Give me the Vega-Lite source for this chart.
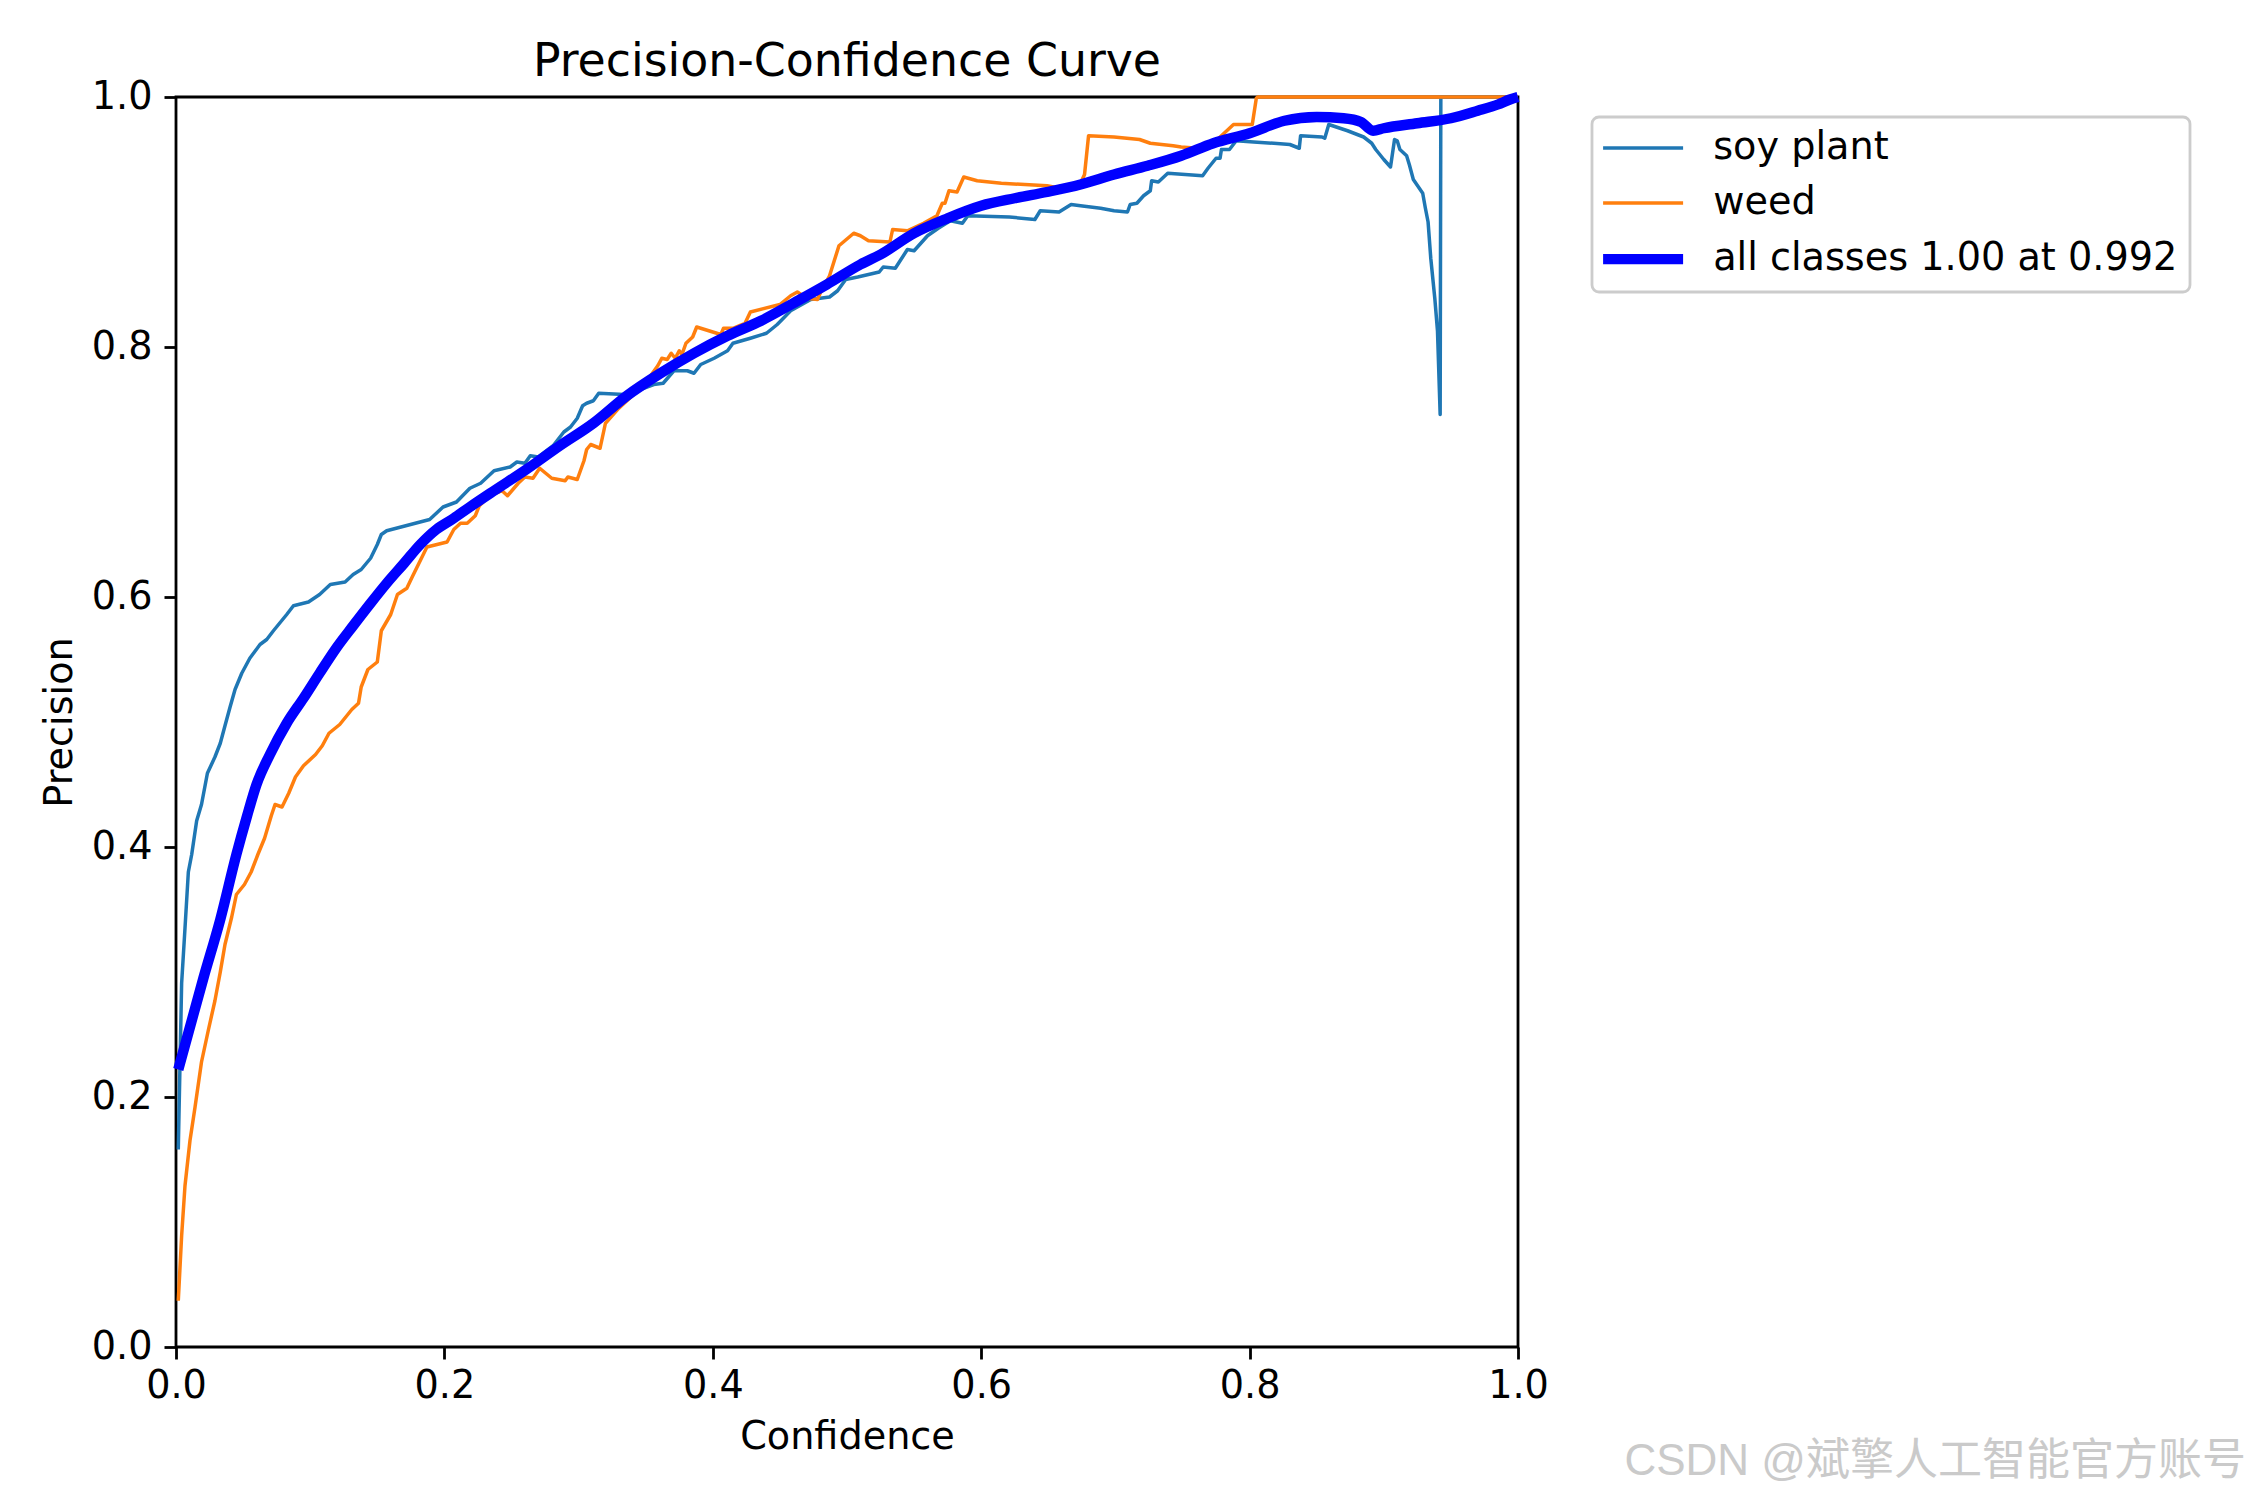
{
  "$schema": "https://vega.github.io/schema/vega-lite/v6.json",
  "width": 1342,
  "height": 1250,
  "autosize": {"type": "none"},
  "padding": {"left": 176, "top": 97, "right": 732, "bottom": 153},
  "background": "white",
  "title": {
    "text": "Precision-Confidence Curve",
    "font": "DejaVu Sans",
    "fontSize": 45.8,
    "fontWeight": "normal",
    "color": "black",
    "anchor": "middle",
    "offset": -9
  },
  "config": {
    "view": {"stroke": "black", "strokeWidth": 2.8},
    "axis": {
      "grid": false,
      "domain": false,
      "tickColor": "black",
      "tickWidth": 2.8,
      "tickSize": 12,
      "labelFont": "DejaVu Sans",
      "labelFontSize": 38.2,
      "labelColor": "black",
      "labelFlush": false,
      "labelOverlap": false,
      "titleFont": "DejaVu Sans",
      "titleFontSize": 38.2,
      "titleFontWeight": "normal",
      "titleColor": "black"
    },
    "legend": {
      "orient": "none",
      "legendX": 1416,
      "legendY": 20,
      "symbolType": "M-2,0H2",
      "symbolSize": 1600,
      "symbolOffset": 20,
      "symbolOpacity": 1,
      "labelFont": "DejaVu Sans",
      "labelFontSize": 38.2,
      "labelColor": "black",
      "labelLimit": 0,
      "labelOffset": 51,
      "rowPadding": 16,
      "padding": 12,
      "fillColor": "rgba(255,255,255,0.8)",
      "strokeColor": "#cccccc",
      "strokeWidth": 2.8,
      "cornerRadius": 7
    }
  },
  "data": {
    "values": [
      {"class": "soy plant", "conf": 0.0017, "prec": 0.158},
      {"class": "soy plant", "conf": 0.0042, "prec": 0.291},
      {"class": "soy plant", "conf": 0.0067, "prec": 0.335},
      {"class": "soy plant", "conf": 0.0092, "prec": 0.38},
      {"class": "soy plant", "conf": 0.0117, "prec": 0.394},
      {"class": "soy plant", "conf": 0.0154, "prec": 0.421},
      {"class": "soy plant", "conf": 0.019, "prec": 0.434},
      {"class": "soy plant", "conf": 0.0234, "prec": 0.459},
      {"class": "soy plant", "conf": 0.029, "prec": 0.472},
      {"class": "soy plant", "conf": 0.033, "prec": 0.483},
      {"class": "soy plant", "conf": 0.0365, "prec": 0.497},
      {"class": "soy plant", "conf": 0.0403, "prec": 0.512},
      {"class": "soy plant", "conf": 0.044, "prec": 0.526},
      {"class": "soy plant", "conf": 0.049, "prec": 0.539},
      {"class": "soy plant", "conf": 0.055, "prec": 0.551},
      {"class": "soy plant", "conf": 0.0626, "prec": 0.562},
      {"class": "soy plant", "conf": 0.0676, "prec": 0.566},
      {"class": "soy plant", "conf": 0.0726, "prec": 0.573},
      {"class": "soy plant", "conf": 0.0825, "prec": 0.586},
      {"class": "soy plant", "conf": 0.0875, "prec": 0.593},
      {"class": "soy plant", "conf": 0.0987, "prec": 0.596},
      {"class": "soy plant", "conf": 0.107, "prec": 0.602},
      {"class": "soy plant", "conf": 0.115, "prec": 0.61},
      {"class": "soy plant", "conf": 0.126, "prec": 0.612},
      {"class": "soy plant", "conf": 0.132, "prec": 0.618},
      {"class": "soy plant", "conf": 0.138, "prec": 0.622},
      {"class": "soy plant", "conf": 0.145, "prec": 0.631},
      {"class": "soy plant", "conf": 0.15, "prec": 0.642},
      {"class": "soy plant", "conf": 0.153, "prec": 0.65},
      {"class": "soy plant", "conf": 0.157, "prec": 0.653},
      {"class": "soy plant", "conf": 0.189, "prec": 0.662},
      {"class": "soy plant", "conf": 0.199, "prec": 0.672},
      {"class": "soy plant", "conf": 0.209, "prec": 0.676},
      {"class": "soy plant", "conf": 0.219, "prec": 0.687},
      {"class": "soy plant", "conf": 0.227, "prec": 0.691},
      {"class": "soy plant", "conf": 0.237, "prec": 0.701},
      {"class": "soy plant", "conf": 0.249, "prec": 0.704},
      {"class": "soy plant", "conf": 0.254, "prec": 0.708},
      {"class": "soy plant", "conf": 0.26, "prec": 0.707},
      {"class": "soy plant", "conf": 0.264, "prec": 0.713},
      {"class": "soy plant", "conf": 0.27, "prec": 0.712},
      {"class": "soy plant", "conf": 0.281, "prec": 0.721},
      {"class": "soy plant", "conf": 0.289, "prec": 0.732},
      {"class": "soy plant", "conf": 0.294, "prec": 0.736},
      {"class": "soy plant", "conf": 0.299, "prec": 0.743},
      {"class": "soy plant", "conf": 0.303, "prec": 0.753},
      {"class": "soy plant", "conf": 0.306, "prec": 0.755},
      {"class": "soy plant", "conf": 0.311, "prec": 0.757},
      {"class": "soy plant", "conf": 0.315, "prec": 0.763},
      {"class": "soy plant", "conf": 0.334, "prec": 0.762},
      {"class": "soy plant", "conf": 0.346, "prec": 0.766},
      {"class": "soy plant", "conf": 0.356, "prec": 0.77},
      {"class": "soy plant", "conf": 0.363, "prec": 0.771},
      {"class": "soy plant", "conf": 0.371, "prec": 0.781},
      {"class": "soy plant", "conf": 0.381, "prec": 0.781},
      {"class": "soy plant", "conf": 0.386, "prec": 0.779},
      {"class": "soy plant", "conf": 0.391, "prec": 0.786},
      {"class": "soy plant", "conf": 0.401, "prec": 0.791},
      {"class": "soy plant", "conf": 0.411, "prec": 0.797},
      {"class": "soy plant", "conf": 0.415, "prec": 0.803},
      {"class": "soy plant", "conf": 0.428, "prec": 0.807},
      {"class": "soy plant", "conf": 0.44, "prec": 0.811},
      {"class": "soy plant", "conf": 0.448, "prec": 0.818},
      {"class": "soy plant", "conf": 0.458, "prec": 0.829},
      {"class": "soy plant", "conf": 0.473, "prec": 0.838},
      {"class": "soy plant", "conf": 0.487, "prec": 0.84},
      {"class": "soy plant", "conf": 0.493, "prec": 0.845},
      {"class": "soy plant", "conf": 0.499, "prec": 0.854},
      {"class": "soy plant", "conf": 0.508, "prec": 0.856},
      {"class": "soy plant", "conf": 0.524, "prec": 0.86},
      {"class": "soy plant", "conf": 0.527, "prec": 0.864},
      {"class": "soy plant", "conf": 0.536, "prec": 0.863},
      {"class": "soy plant", "conf": 0.545, "prec": 0.878},
      {"class": "soy plant", "conf": 0.55, "prec": 0.877},
      {"class": "soy plant", "conf": 0.56, "prec": 0.889},
      {"class": "soy plant", "conf": 0.568, "prec": 0.895},
      {"class": "soy plant", "conf": 0.577, "prec": 0.901},
      {"class": "soy plant", "conf": 0.586, "prec": 0.899},
      {"class": "soy plant", "conf": 0.59, "prec": 0.905},
      {"class": "soy plant", "conf": 0.621, "prec": 0.904},
      {"class": "soy plant", "conf": 0.64, "prec": 0.902},
      {"class": "soy plant", "conf": 0.644, "prec": 0.909},
      {"class": "soy plant", "conf": 0.658, "prec": 0.908},
      {"class": "soy plant", "conf": 0.667, "prec": 0.914},
      {"class": "soy plant", "conf": 0.674, "prec": 0.913},
      {"class": "soy plant", "conf": 0.689, "prec": 0.911},
      {"class": "soy plant", "conf": 0.699, "prec": 0.909},
      {"class": "soy plant", "conf": 0.709, "prec": 0.908},
      {"class": "soy plant", "conf": 0.711, "prec": 0.914},
      {"class": "soy plant", "conf": 0.716, "prec": 0.915},
      {"class": "soy plant", "conf": 0.721, "prec": 0.921},
      {"class": "soy plant", "conf": 0.726, "prec": 0.925},
      {"class": "soy plant", "conf": 0.727, "prec": 0.933},
      {"class": "soy plant", "conf": 0.732, "prec": 0.932},
      {"class": "soy plant", "conf": 0.739, "prec": 0.939},
      {"class": "soy plant", "conf": 0.765, "prec": 0.937},
      {"class": "soy plant", "conf": 0.769, "prec": 0.943},
      {"class": "soy plant", "conf": 0.775, "prec": 0.951},
      {"class": "soy plant", "conf": 0.778, "prec": 0.951},
      {"class": "soy plant", "conf": 0.779, "prec": 0.958},
      {"class": "soy plant", "conf": 0.785, "prec": 0.958},
      {"class": "soy plant", "conf": 0.79, "prec": 0.965},
      {"class": "soy plant", "conf": 0.803, "prec": 0.964},
      {"class": "soy plant", "conf": 0.818, "prec": 0.963},
      {"class": "soy plant", "conf": 0.83, "prec": 0.962},
      {"class": "soy plant", "conf": 0.837, "prec": 0.959},
      {"class": "soy plant", "conf": 0.838, "prec": 0.969},
      {"class": "soy plant", "conf": 0.854, "prec": 0.968},
      {"class": "soy plant", "conf": 0.856, "prec": 0.967},
      {"class": "soy plant", "conf": 0.859, "prec": 0.978},
      {"class": "soy plant", "conf": 0.873, "prec": 0.973},
      {"class": "soy plant", "conf": 0.885, "prec": 0.968},
      {"class": "soy plant", "conf": 0.891, "prec": 0.963},
      {"class": "soy plant", "conf": 0.894, "prec": 0.958},
      {"class": "soy plant", "conf": 0.9, "prec": 0.95},
      {"class": "soy plant", "conf": 0.905, "prec": 0.944},
      {"class": "soy plant", "conf": 0.908, "prec": 0.966},
      {"class": "soy plant", "conf": 0.91, "prec": 0.965},
      {"class": "soy plant", "conf": 0.912, "prec": 0.958},
      {"class": "soy plant", "conf": 0.917, "prec": 0.953},
      {"class": "soy plant", "conf": 0.919, "prec": 0.946},
      {"class": "soy plant", "conf": 0.922, "prec": 0.934},
      {"class": "soy plant", "conf": 0.929, "prec": 0.923},
      {"class": "soy plant", "conf": 0.931, "prec": 0.911},
      {"class": "soy plant", "conf": 0.933, "prec": 0.9},
      {"class": "soy plant", "conf": 0.935, "prec": 0.871},
      {"class": "soy plant", "conf": 0.938, "prec": 0.839},
      {"class": "soy plant", "conf": 0.94, "prec": 0.813},
      {"class": "soy plant", "conf": 0.942, "prec": 0.746},
      {"class": "soy plant", "conf": 0.9425, "prec": 1.0},
      {"class": "soy plant", "conf": 1.0, "prec": 1.0},
      {"class": "weed", "conf": 0.0017, "prec": 0.037},
      {"class": "weed", "conf": 0.0042, "prec": 0.089},
      {"class": "weed", "conf": 0.0067, "prec": 0.129},
      {"class": "weed", "conf": 0.0104, "prec": 0.165},
      {"class": "weed", "conf": 0.0142, "prec": 0.192},
      {"class": "weed", "conf": 0.019, "prec": 0.228},
      {"class": "weed", "conf": 0.024, "prec": 0.253},
      {"class": "weed", "conf": 0.029, "prec": 0.277},
      {"class": "weed", "conf": 0.033, "prec": 0.3},
      {"class": "weed", "conf": 0.0365, "prec": 0.322},
      {"class": "weed", "conf": 0.0415, "prec": 0.344},
      {"class": "weed", "conf": 0.045, "prec": 0.362},
      {"class": "weed", "conf": 0.051, "prec": 0.37},
      {"class": "weed", "conf": 0.056, "prec": 0.38},
      {"class": "weed", "conf": 0.061, "prec": 0.394},
      {"class": "weed", "conf": 0.066, "prec": 0.407},
      {"class": "weed", "conf": 0.071, "prec": 0.425},
      {"class": "weed", "conf": 0.0738, "prec": 0.434},
      {"class": "weed", "conf": 0.079, "prec": 0.432},
      {"class": "weed", "conf": 0.084, "prec": 0.443},
      {"class": "weed", "conf": 0.089, "prec": 0.456},
      {"class": "weed", "conf": 0.095, "prec": 0.465},
      {"class": "weed", "conf": 0.104, "prec": 0.474},
      {"class": "weed", "conf": 0.109, "prec": 0.481},
      {"class": "weed", "conf": 0.114, "prec": 0.491},
      {"class": "weed", "conf": 0.122, "prec": 0.498},
      {"class": "weed", "conf": 0.131, "prec": 0.51},
      {"class": "weed", "conf": 0.136, "prec": 0.515},
      {"class": "weed", "conf": 0.138, "prec": 0.528},
      {"class": "weed", "conf": 0.143, "prec": 0.542},
      {"class": "weed", "conf": 0.15, "prec": 0.548},
      {"class": "weed", "conf": 0.153, "prec": 0.573},
      {"class": "weed", "conf": 0.16, "prec": 0.586},
      {"class": "weed", "conf": 0.165, "prec": 0.602},
      {"class": "weed", "conf": 0.172, "prec": 0.607},
      {"class": "weed", "conf": 0.176, "prec": 0.616},
      {"class": "weed", "conf": 0.187, "prec": 0.64},
      {"class": "weed", "conf": 0.202, "prec": 0.644},
      {"class": "weed", "conf": 0.207, "prec": 0.654},
      {"class": "weed", "conf": 0.212, "prec": 0.659},
      {"class": "weed", "conf": 0.217, "prec": 0.659},
      {"class": "weed", "conf": 0.223, "prec": 0.665},
      {"class": "weed", "conf": 0.226, "prec": 0.673},
      {"class": "weed", "conf": 0.234, "prec": 0.681},
      {"class": "weed", "conf": 0.243, "prec": 0.685},
      {"class": "weed", "conf": 0.247, "prec": 0.681},
      {"class": "weed", "conf": 0.255, "prec": 0.691},
      {"class": "weed", "conf": 0.26, "prec": 0.696},
      {"class": "weed", "conf": 0.266, "prec": 0.695},
      {"class": "weed", "conf": 0.271, "prec": 0.703},
      {"class": "weed", "conf": 0.28, "prec": 0.695},
      {"class": "weed", "conf": 0.29, "prec": 0.693},
      {"class": "weed", "conf": 0.292, "prec": 0.696},
      {"class": "weed", "conf": 0.299, "prec": 0.694},
      {"class": "weed", "conf": 0.304, "prec": 0.709},
      {"class": "weed", "conf": 0.306, "prec": 0.718},
      {"class": "weed", "conf": 0.309, "prec": 0.722},
      {"class": "weed", "conf": 0.316, "prec": 0.719},
      {"class": "weed", "conf": 0.32, "prec": 0.739},
      {"class": "weed", "conf": 0.329, "prec": 0.75},
      {"class": "weed", "conf": 0.341, "prec": 0.762},
      {"class": "weed", "conf": 0.351, "prec": 0.773},
      {"class": "weed", "conf": 0.359, "prec": 0.785},
      {"class": "weed", "conf": 0.362, "prec": 0.791},
      {"class": "weed", "conf": 0.366, "prec": 0.79},
      {"class": "weed", "conf": 0.369, "prec": 0.795},
      {"class": "weed", "conf": 0.372, "prec": 0.791},
      {"class": "weed", "conf": 0.375, "prec": 0.797},
      {"class": "weed", "conf": 0.377, "prec": 0.794},
      {"class": "weed", "conf": 0.38, "prec": 0.803},
      {"class": "weed", "conf": 0.385, "prec": 0.808},
      {"class": "weed", "conf": 0.388, "prec": 0.816},
      {"class": "weed", "conf": 0.406, "prec": 0.81},
      {"class": "weed", "conf": 0.408, "prec": 0.815},
      {"class": "weed", "conf": 0.415, "prec": 0.815},
      {"class": "weed", "conf": 0.424, "prec": 0.819},
      {"class": "weed", "conf": 0.428, "prec": 0.828},
      {"class": "weed", "conf": 0.45, "prec": 0.834},
      {"class": "weed", "conf": 0.458, "prec": 0.841},
      {"class": "weed", "conf": 0.463, "prec": 0.844},
      {"class": "weed", "conf": 0.47, "prec": 0.839},
      {"class": "weed", "conf": 0.478, "prec": 0.838},
      {"class": "weed", "conf": 0.48, "prec": 0.843},
      {"class": "weed", "conf": 0.487, "prec": 0.857},
      {"class": "weed", "conf": 0.494, "prec": 0.881},
      {"class": "weed", "conf": 0.505, "prec": 0.891},
      {"class": "weed", "conf": 0.51, "prec": 0.889},
      {"class": "weed", "conf": 0.516, "prec": 0.885},
      {"class": "weed", "conf": 0.532, "prec": 0.884},
      {"class": "weed", "conf": 0.534, "prec": 0.894},
      {"class": "weed", "conf": 0.545, "prec": 0.893},
      {"class": "weed", "conf": 0.557, "prec": 0.899},
      {"class": "weed", "conf": 0.567, "prec": 0.905},
      {"class": "weed", "conf": 0.571, "prec": 0.915},
      {"class": "weed", "conf": 0.573, "prec": 0.915},
      {"class": "weed", "conf": 0.576, "prec": 0.925},
      {"class": "weed", "conf": 0.582, "prec": 0.924},
      {"class": "weed", "conf": 0.587, "prec": 0.936},
      {"class": "weed", "conf": 0.597, "prec": 0.933},
      {"class": "weed", "conf": 0.615, "prec": 0.931},
      {"class": "weed", "conf": 0.649, "prec": 0.929},
      {"class": "weed", "conf": 0.659, "prec": 0.927},
      {"class": "weed", "conf": 0.674, "prec": 0.931},
      {"class": "weed", "conf": 0.677, "prec": 0.938},
      {"class": "weed", "conf": 0.68, "prec": 0.969},
      {"class": "weed", "conf": 0.699, "prec": 0.968},
      {"class": "weed", "conf": 0.718, "prec": 0.966},
      {"class": "weed", "conf": 0.726, "prec": 0.963},
      {"class": "weed", "conf": 0.743, "prec": 0.961},
      {"class": "weed", "conf": 0.749, "prec": 0.96},
      {"class": "weed", "conf": 0.761, "prec": 0.959},
      {"class": "weed", "conf": 0.777, "prec": 0.967},
      {"class": "weed", "conf": 0.788, "prec": 0.978},
      {"class": "weed", "conf": 0.802, "prec": 0.978},
      {"class": "weed", "conf": 0.805, "prec": 0.999},
      {"class": "weed", "conf": 0.806, "prec": 1.0},
      {"class": "weed", "conf": 1.0, "prec": 1.0},
      {"class": "all classes 1.00 at 0.992", "conf": 0.0017, "prec": 0.222},
      {"class": "all classes 1.00 at 0.992", "conf": 0.0204, "prec": 0.295},
      {"class": "all classes 1.00 at 0.992", "conf": 0.033, "prec": 0.342},
      {"class": "all classes 1.00 at 0.992", "conf": 0.045, "prec": 0.394},
      {"class": "all classes 1.00 at 0.992", "conf": 0.053, "prec": 0.425},
      {"class": "all classes 1.00 at 0.992", "conf": 0.06, "prec": 0.45},
      {"class": "all classes 1.00 at 0.992", "conf": 0.07, "prec": 0.474},
      {"class": "all classes 1.00 at 0.992", "conf": 0.0825, "prec": 0.499},
      {"class": "all classes 1.00 at 0.992", "conf": 0.095, "prec": 0.519},
      {"class": "all classes 1.00 at 0.992", "conf": 0.107, "prec": 0.539},
      {"class": "all classes 1.00 at 0.992", "conf": 0.12, "prec": 0.56},
      {"class": "all classes 1.00 at 0.992", "conf": 0.132, "prec": 0.577},
      {"class": "all classes 1.00 at 0.992", "conf": 0.145, "prec": 0.595},
      {"class": "all classes 1.00 at 0.992", "conf": 0.157, "prec": 0.611},
      {"class": "all classes 1.00 at 0.992", "conf": 0.17, "prec": 0.627},
      {"class": "all classes 1.00 at 0.992", "conf": 0.182, "prec": 0.642},
      {"class": "all classes 1.00 at 0.992", "conf": 0.194, "prec": 0.654},
      {"class": "all classes 1.00 at 0.992", "conf": 0.207, "prec": 0.663},
      {"class": "all classes 1.00 at 0.992", "conf": 0.219, "prec": 0.672},
      {"class": "all classes 1.00 at 0.992", "conf": 0.237, "prec": 0.685},
      {"class": "all classes 1.00 at 0.992", "conf": 0.261, "prec": 0.702},
      {"class": "all classes 1.00 at 0.992", "conf": 0.286, "prec": 0.721},
      {"class": "all classes 1.00 at 0.992", "conf": 0.311, "prec": 0.739},
      {"class": "all classes 1.00 at 0.992", "conf": 0.336, "prec": 0.761},
      {"class": "all classes 1.00 at 0.992", "conf": 0.361, "prec": 0.779},
      {"class": "all classes 1.00 at 0.992", "conf": 0.386, "prec": 0.795},
      {"class": "all classes 1.00 at 0.992", "conf": 0.411, "prec": 0.809},
      {"class": "all classes 1.00 at 0.992", "conf": 0.436, "prec": 0.821},
      {"class": "all classes 1.00 at 0.992", "conf": 0.46, "prec": 0.835},
      {"class": "all classes 1.00 at 0.992", "conf": 0.485, "prec": 0.85},
      {"class": "all classes 1.00 at 0.992", "conf": 0.51, "prec": 0.866},
      {"class": "all classes 1.00 at 0.992", "conf": 0.525, "prec": 0.874},
      {"class": "all classes 1.00 at 0.992", "conf": 0.55, "prec": 0.891},
      {"class": "all classes 1.00 at 0.992", "conf": 0.575, "prec": 0.903},
      {"class": "all classes 1.00 at 0.992", "conf": 0.6, "prec": 0.913},
      {"class": "all classes 1.00 at 0.992", "conf": 0.625, "prec": 0.919},
      {"class": "all classes 1.00 at 0.992", "conf": 0.649, "prec": 0.924},
      {"class": "all classes 1.00 at 0.992", "conf": 0.674, "prec": 0.93},
      {"class": "all classes 1.00 at 0.992", "conf": 0.699, "prec": 0.938},
      {"class": "all classes 1.00 at 0.992", "conf": 0.724, "prec": 0.945},
      {"class": "all classes 1.00 at 0.992", "conf": 0.749, "prec": 0.953},
      {"class": "all classes 1.00 at 0.992", "conf": 0.773, "prec": 0.963},
      {"class": "all classes 1.00 at 0.992", "conf": 0.8, "prec": 0.971},
      {"class": "all classes 1.00 at 0.992", "conf": 0.826, "prec": 0.981},
      {"class": "all classes 1.00 at 0.992", "conf": 0.85, "prec": 0.984},
      {"class": "all classes 1.00 at 0.992", "conf": 0.87, "prec": 0.983},
      {"class": "all classes 1.00 at 0.992", "conf": 0.883, "prec": 0.98},
      {"class": "all classes 1.00 at 0.992", "conf": 0.892, "prec": 0.973},
      {"class": "all classes 1.00 at 0.992", "conf": 0.9, "prec": 0.975},
      {"class": "all classes 1.00 at 0.992", "conf": 0.925, "prec": 0.979},
      {"class": "all classes 1.00 at 0.992", "conf": 0.95, "prec": 0.983},
      {"class": "all classes 1.00 at 0.992", "conf": 0.97, "prec": 0.989},
      {"class": "all classes 1.00 at 0.992", "conf": 0.985, "prec": 0.994},
      {"class": "all classes 1.00 at 0.992", "conf": 0.994, "prec": 0.998},
      {"class": "all classes 1.00 at 0.992", "conf": 1.0, "prec": 1.0}
    ]
  },
  "encoding": {
    "x": {
      "field": "conf",
      "type": "quantitative",
      "scale": {"domain": [0, 1], "nice": false, "zero": false},
      "axis": {"values": [0, 0.2, 0.4, 0.6, 0.8, 1], "format": ".1f", "title": "Confidence", "labelPadding": 8, "titlePadding": 14}
    },
    "y": {
      "field": "prec",
      "type": "quantitative",
      "scale": {"domain": [0, 1], "nice": false, "zero": false},
      "axis": {"values": [0, 0.2, 0.4, 0.6, 0.8, 1], "format": ".1f", "title": "Precision", "labelPadding": 12, "titlePadding": 12}
    },
    "color": {
      "field": "class",
      "type": "nominal",
      "scale": {"domain": ["soy plant", "weed", "all classes 1.00 at 0.992"], "range": ["#1f77b4", "#ff7f0e", "#0000ff"]},
      "legend": {
        "title": null,
        "encode": {
          "symbols": {
            "update": {
              "strokeWidth": {"signal": "datum.value == 'all classes 1.00 at 0.992' ? 10.4 : 3.5"}
            }
          }
        }
      }
    }
  },
  "layer": [
    {
      "transform": [{"filter": "datum['class'] != 'all classes 1.00 at 0.992'"}],
      "mark": {"type": "line", "interpolate": "linear", "strokeJoin": "round", "strokeWidth": 3.5},
      "encoding": {"order": {"value": null}}
    },
    {
      "transform": [{"filter": "datum['class'] == 'all classes 1.00 at 0.992'"}],
      "mark": {"type": "line", "interpolate": "monotone", "strokeJoin": "round", "strokeWidth": 10.4},
      "encoding": {"order": {"value": null}}
    },
    {
      "data": {"values": [{"conf": 1.5425, "prec": -0.0916, "note": "CSDN @斌擎人工智能官方账号"}]},
      "mark": {"type": "text", "align": "right", "baseline": "middle", "font": "Liberation Sans, Noto Sans CJK SC", "fontSize": 44},
      "encoding": {
        "text": {"field": "note", "type": "nominal"},
        "color": {"value": "#cacaca"}
      }
    }
  ]
}
